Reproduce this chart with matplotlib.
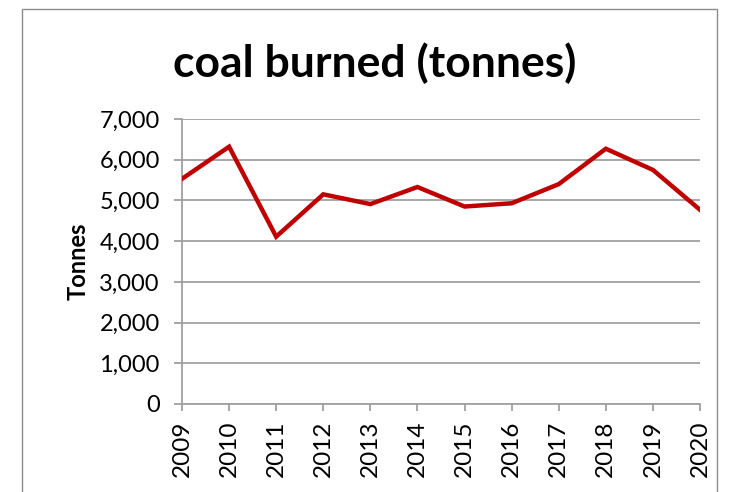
import matplotlib
matplotlib.use('Agg')
import matplotlib.pyplot as plt
from matplotlib.patches import Rectangle
from matplotlib.ticker import FuncFormatter

# data
years = [2009, 2010, 2011, 2012, 2013, 2014, 2015, 2016, 2017, 2018, 2019, 2020]
coal_tonnes = [5530, 6320, 4110, 5150, 4910, 5330, 4850, 4930, 5400, 6270, 5750, 4770]
y_ticks = [0, 1000, 2000, 3000, 4000, 5000, 6000, 7000]

plt.rcParams['font.family'] = ['Lato', 'DejaVu Sans']
grey = '#a0a0a0'

fig = plt.figure(figsize=(7.29, 4.92), dpi=100)
ax = fig.add_axes([182 / 729, 1 - 404 / 492, (700 - 182) / 729, (404 - 119) / 492])

# outer chart border
fig.add_artist(Rectangle((22 / 729, -0.1), (717 - 22) / 729, 0.1 + 1 - 9 / 492,
                         transform=fig.transFigure, fill=False,
                         edgecolor='#8c8c8c', linewidth=1.0))

ax.plot(range(len(years)), coal_tonnes, color='#c00000', linewidth=3.2,
        solid_joinstyle='miter', zorder=3)

ax.set_xlim(0, len(years) - 1)
ax.set_ylim(0, 7000)
ax.set_yticks(y_ticks)
ax.yaxis.set_major_formatter(FuncFormatter(lambda v, p: f'{int(v):,}'))
ax.set_xticks(range(len(years)))
ax.set_xticklabels([str(y) for y in years], rotation=90)

ax.grid(axis='y', color=grey, linewidth=1.3)
ax.set_axisbelow(True)
for side in ['top', 'right']:
    ax.spines[side].set_visible(False)
for side in ['left', 'bottom']:
    ax.spines[side].set_color(grey)
    ax.spines[side].set_linewidth(1.3)
ax.tick_params(axis='both', colors=grey, labelcolor='black',
               length=6, width=1.3, direction='out')
ax.tick_params(axis='y', labelsize=17, pad=10)
ax.tick_params(axis='x', labelsize=17.5, length=5, pad=7)

ax.set_ylabel('Tonnes', fontsize=17, fontweight='bold', labelpad=7)
fig.text(375 / 729, 1 - 77 / 492, 'coal burned (tonnes)', ha='center', va='baseline',
         fontsize=32, fontweight='bold')

fig.savefig('out.png', dpi=100)
